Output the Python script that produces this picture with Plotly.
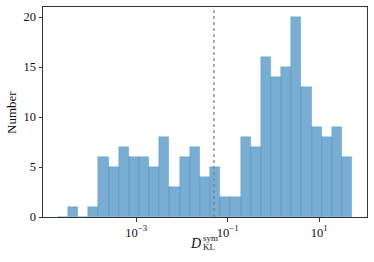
import numpy as np
import plotly.graph_objects as go

# Histogram counts per log-spaced bin
counts = [0, 1, 0, 1, 6, 5, 7, 6, 6, 5, 8, 3, 6, 7, 4, 5, 2, 2, 8, 7,
          16, 14, 15, 20, 13, 9, 8, 9, 6]
# bin definition in log10 space
log_edge_min = -4.715
log_edge_max = 1.723
threshold = 0.05
tick_exponents = [-3, -1, 1]
y_ticks = [0, 5, 10, 15, 20]

edges = np.linspace(log_edge_min, log_edge_max, len(counts) + 1)
centers = (edges[:-1] + edges[1:]) / 2
width = edges[1] - edges[0]

FONT = "Liberation Serif"

fig = go.Figure()
fig.add_trace(go.Bar(
    x=centers, y=counts, width=width,
    marker=dict(color="rgba(31,119,180,0.6)",
                line=dict(color="rgba(31,119,180,0.35)", width=0.6)),
    showlegend=False, hoverinfo="skip",
))

fig.add_shape(type="line", xref="x", yref="paper",
              x0=np.log10(threshold), x1=np.log10(threshold), y0=0, y1=1,
              line=dict(color="gray", width=1.3, dash="dot"))

span = log_edge_max - log_edge_min
fig.update_layout(
    width=374, height=262,
    margin=dict(l=43, r=7, t=7, b=45),
    plot_bgcolor="white", paper_bgcolor="white",
    font=dict(family=FONT, size=11, color="#111"),
    bargap=0,
    xaxis=dict(
        range=[log_edge_min - 0.05 * span, log_edge_max + 0.05 * span],
        tickvals=tick_exponents,
        ticktext=[f"10<sup>{'−' if e < 0 else ''}{abs(e)}</sup>" for e in tick_exponents],
        ticks="outside", ticklen=3.5, tickwidth=0.8, tickcolor="#333",
        showline=True, linecolor="#333", linewidth=1, mirror=True,
        showgrid=False, zeroline=False,
        tickfont=dict(family=FONT, size=12.5),
    ),
    yaxis=dict(
        range=[0, 21],
        tickvals=y_ticks,
        ticks="outside", ticklen=3.5, tickwidth=0.8, tickcolor="#333",
        showline=True, linecolor="#333", linewidth=1, mirror=True,
        showgrid=False, zeroline=False,
        tickfont=dict(family=FONT, size=12.5),
    ),
    annotations=[
        dict(text="Number", xref="paper", yref="paper", x=-0.099, y=0.5,
             textangle=-90, showarrow=False, xanchor="center", yanchor="middle",
             font=dict(family=FONT, size=13)),
        dict(text="<i>D</i>", xref="paper", yref="paper", x=0.4707, y=-0.128,
             showarrow=False, xanchor="center", yanchor="middle",
             font=dict(family=FONT, size=14)),
        dict(text="sym", xref="paper", yref="paper", x=0.4867, y=-0.098,
             showarrow=False, xanchor="left", yanchor="middle",
             font=dict(family=FONT, size=9)),
        dict(text="KL", xref="paper", yref="paper", x=0.4867, y=-0.142,
             showarrow=False, xanchor="left", yanchor="middle",
             font=dict(family=FONT, size=9)),
    ],
)

fig.write_html("out.html",
               config={"displayModeBar": False},
               post_script="document.body.style.margin='0';document.body.style.padding='0';")
